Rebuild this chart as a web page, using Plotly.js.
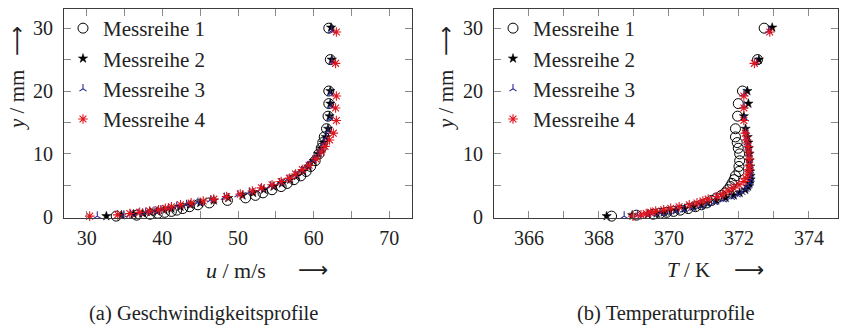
<!DOCTYPE html>
<html>
<head>
<meta charset="utf-8">
<script src="https://cdn.plot.ly/plotly-3.0.1.min.js"></script>
<style>
  html, body { margin: 0; padding: 0; background: #fff; }
  #chart { width: 841px; height: 325px; }
</style>
</head>
<body>
<div id="chart"></div>
<script>
// ---------------- data ----------------
const seriesNames = ["Messreihe 1", "Messreihe 2", "Messreihe 3", "Messreihe 4"];

// wall distance y / mm for each measurement series
const y1 = [0.1, 0.25, 0.4, 0.55, 0.7, 0.85, 1.05, 1.3, 1.6, 1.9, 2.2, 2.6, 3.0, 3.4, 3.8, 4.3, 4.8, 5.3, 5.9, 6.5, 7.2, 8.0, 8.9, 10.0, 10.9, 11.8, 12.7, 14, 16, 18, 20, 25, 30];
const y2 = [0.1, 0.25, 0.4, 0.55, 0.7, 0.85, 1.05, 1.3, 1.6, 1.9, 2.2, 2.6, 3.0, 3.4, 3.8, 4.3, 4.8, 5.3, 5.9, 6.5, 7.2, 8.0, 8.9, 10.0, 10.9, 11.8, 12.7, 14, 16, 18, 20, 25, 30.1];
const y3 = [0.1, 0.25, 0.4, 0.55, 0.7, 0.9, 1.1, 1.35, 1.65, 1.95, 2.3, 2.7, 3.1, 3.5, 3.9, 4.4, 4.9, 5.4, 6.0, 6.6, 7.3, 8.1, 9.0, 10.0, 10.9, 11.8, 12.6, 13.6, 15.6, 17.6, 19.6, 24.6, 29.6];
const y4 = [0.1, 0.3, 0.5, 0.7, 0.9, 1.1, 1.35, 1.6, 1.9, 2.2, 2.5, 2.8, 3.2, 3.6, 4.1, 4.6, 5.1, 5.6, 6.1, 6.8, 7.5, 8.2, 9.2, 10.3, 11.2, 12.2, 13.3, 15.3, 17.3, 19.2, 24.4, 29.4];

// velocity u / (m/s)
const u1 = [33.9, 36.6, 38.4, 39.4, 40.3, 41.2, 41.9, 42.7, 43.6, 44.7, 46.2, 48.6, 51.0, 52.3, 53.3, 54.5, 55.7, 56.5, 57.4, 58.3, 59.0, 59.6, 60.2, 60.7, 61.0, 61.2, 61.4, 61.7, 61.9, 62.0, 62.0, 62.2, 62.0];
const u2 = [32.6, 34.6, 36.2, 37.4, 38.4, 39.3, 40.2, 41.2, 42.4, 43.7, 45.0, 46.8, 48.7, 50.6, 52.0, 53.4, 54.7, 55.8, 56.9, 57.8, 58.6, 59.3, 60.0, 60.6, 61.0, 61.3, 61.6, 61.9, 62.1, 62.2, 62.2, 62.4, 62.3];
const u3 = [31.4, 34.9, 35.8, 36.8, 37.8, 38.9, 39.8, 40.8, 41.9, 43.2, 44.7, 46.4, 48.2, 50.0, 51.5, 53.0, 54.3, 55.5, 56.6, 57.5, 58.4, 59.2, 59.9, 60.6, 61.0, 61.4, 61.7, 61.9, 62.2, 62.3, 62.2, 62.4, 62.4];
const u4 = [30.4, 34.1, 35.7, 37.0, 38.3, 39.5, 40.4, 41.2, 42.4, 43.8, 45.4, 46.8, 48.5, 50.3, 51.9, 53.1, 54.5, 55.7, 56.8, 57.6, 58.5, 59.4, 60.3, 61.0, 61.5, 62.1, 62.6, 63.0, 62.9, 63.0, 62.9, 63.0];

// temperature T / K
const T1 = [368.36, 369.07, 369.55, 369.75, 369.93, 370.13, 370.32, 370.55, 370.76, 370.93, 371.08, 371.22, 371.36, 371.5, 371.6, 371.68, 371.75, 371.8, 371.86, 371.9, 372.0, 372.0, 372.02, 372.02, 371.98, 371.95, 371.9, 371.9, 371.96, 371.98, 372.1, 372.53, 372.72];
const T2 = [368.22, 368.95, 369.4, 369.65, 369.85, 370.0, 370.2, 370.45, 370.7, 370.92, 371.1, 371.35, 371.62, 371.85, 372.02, 372.18, 372.26, 372.3, 372.33, 372.33, 372.32, 372.32, 372.3, 372.3, 372.28, 372.27, 372.25, 372.19, 372.14, 372.27, 372.24, 372.57, 372.95];
const T3 = [368.72, 369.1, 369.5, 369.75, 369.98, 370.2, 370.42, 370.65, 370.88, 371.08, 371.3, 371.55, 371.78, 371.95, 372.08, 372.2, 372.27, 372.32, 372.34, 372.34, 372.33, 372.32, 372.3, 372.28, 372.26, 372.24, 372.22, 372.2, 372.18, 372.15, 372.15, 372.5, 372.85];
const T4 = [368.97, 369.2, 369.35, 369.48, 369.62, 369.85, 370.05, 370.29, 370.58, 370.8, 370.97, 371.12, 371.38, 371.53, 371.69, 371.84, 372.0, 372.14, 372.2, 372.26, 372.29, 372.3, 372.3, 372.28, 372.26, 372.22, 372.18, 372.14, 372.14, 372.14, 372.44, 372.88];

// tick labels
const uTicks = [30, 35, 40, 45, 50, 55, 60, 65, 70];
const uTickText = ["30", "", "40", "", "50", "", "60", "", "70"];
const TTicks = [366, 367, 368, 369, 370, 371, 372, 373, 374];
const TTickText = ["366", "", "368", "", "370", "", "372", "", "374"];
const yTicks = [0, 5, 10, 15, 20, 25, 30];
const yTickText = ["0", "", "10", "", "20", "", "30"];

const xTitleLeft = "<i>u</i> / m/s";
const xTitleRight = "<i>T</i> / K";
const yTitle = "<i>y</i> / mm";
const captionLeft = "(a) Geschwindigkeitsprofile";
const captionRight = "(b) Temperaturprofile";

// ---------------- styling ----------------
const W = 841, H = 325;
const FONT = "Liberation Serif";
const TXT = "#222";
const styles = [
  {symbol: "circle-open", size: 10, color: "#000", line: {color: "#000", width: 1}},
  {symbol: "star", size: 7, color: "#000", line: {color: "#000", width: 0.5}},
  {symbol: "y-up", size: 6, color: "#2b2b9a", line: {color: "#2b2b9a", width: 1.1}},
  {symbol: "asterisk", size: 8, color: "#e0141e", line: {color: "#e0141e", width: 1.1}}
];

const yArrs = [y1, y2, y3, y4];
const uArrs = [u1, u2, u3, u4];
const TArrs = [T1, T2, T3, T4];

const traces = [];
for (let i = 0; i < 4; i++) {
  traces.push({
    type: "scatter", mode: "markers", name: seriesNames[i],
    x: uArrs[i], y: yArrs[i], xaxis: "x", yaxis: "y",
    marker: styles[i], legend: "legend", legendgroup: "L" + i, cliponaxis: false
  });
}
for (let i = 0; i < 4; i++) {
  traces.push({
    type: "scatter", mode: "markers", name: seriesNames[i],
    x: TArrs[i], y: yArrs[i], xaxis: "x2", yaxis: "y2",
    marker: styles[i], legend: "legend2", legendgroup: "R" + i, cliponaxis: false
  });
}

const px = v => v / W;
const py = v => 1 - v / H;

const axisCommon = {
  showline: true, linecolor: "#3c3c3c", linewidth: 1, mirror: "ticks",
  ticks: "inside", ticklen: 7, tickcolor: "#8a8a8a", tickwidth: 1,
  showgrid: false, zeroline: false, fixedrange: true,
  tickfont: {family: FONT, size: 20, color: TXT}
};

const legendCommon = {
  bgcolor: "rgba(0,0,0,0)", borderwidth: 0,
  font: {family: FONT, size: 21, color: TXT},
  xanchor: "left", yanchor: "top",
  traceorder: "grouped", tracegroupgap: 0, itemwidth: 30
};

const ann = (text, x, y, opts = {}) => Object.assign({
  text: text, x: px(x), y: py(y), xref: "paper", yref: "paper",
  showarrow: false, xanchor: "center", yanchor: "middle",
  font: {family: FONT, size: 21, color: TXT}
}, opts);

const arrowFont = {family: "DejaVu Sans", size: 21, color: TXT};

const layout = {
  width: W, height: H,
  margin: {l: 0, r: 0, t: 0, b: 0},
  paper_bgcolor: "#fff", plot_bgcolor: "#fff",
  font: {family: FONT, size: 20, color: TXT},
  showlegend: true,
  xaxis: Object.assign({}, axisCommon, {
    domain: [px(64), px(412)], range: [27, 73], anchor: "y",
    tickmode: "array", tickvals: uTicks, ticktext: uTickText, ticklabelstandoff: 2
  }),
  yaxis: Object.assign({}, axisCommon, {
    domain: [py(217.5), py(9.3)], range: [-0.12, 33], anchor: "x",
    tickmode: "array", tickvals: yTicks, ticktext: yTickText, ticklabelstandoff: 6
  }),
  xaxis2: Object.assign({}, axisCommon, {
    domain: [px(494), px(838)], range: [365, 374.83], anchor: "y2",
    tickmode: "array", tickvals: TTicks, ticktext: TTickText, ticklabelstandoff: 2
  }),
  yaxis2: Object.assign({}, axisCommon, {
    domain: [py(217.5), py(9.3)], range: [-0.12, 33], anchor: "x2",
    tickmode: "array", tickvals: yTicks, ticktext: yTickText, ticklabelstandoff: 6
  }),
  legend: Object.assign({}, legendCommon, {x: px(63), y: py(8)}),
  legend2: Object.assign({}, legendCommon, {x: px(493), y: py(8)}),
  annotations: [
    ann(xTitleLeft, 236, 270, {font: {family: FONT, size: 22, color: TXT}}),
    ann("⟶", 313, 270, {font: arrowFont}),
    ann(xTitleRight, 688, 270),
    ann("⟶", 749, 270, {font: arrowFont}),
    ann(yTitle, 17, 100, {textangle: -90}),
    ann("⟶", 17, 41, {textangle: -90, font: arrowFont}),
    ann(yTitle, 446, 100, {textangle: -90}),
    ann("⟶", 446, 41, {textangle: -90, font: arrowFont}),
    ann(captionLeft, 203, 313, {font: {family: FONT, size: 20.5, color: TXT}}),
    ann(captionRight, 665, 313, {font: {family: FONT, size: 20.5, color: TXT}})
  ]
};

Plotly.newPlot("chart", traces, layout, {displayModeBar: false});
</script>
</body>
</html>
